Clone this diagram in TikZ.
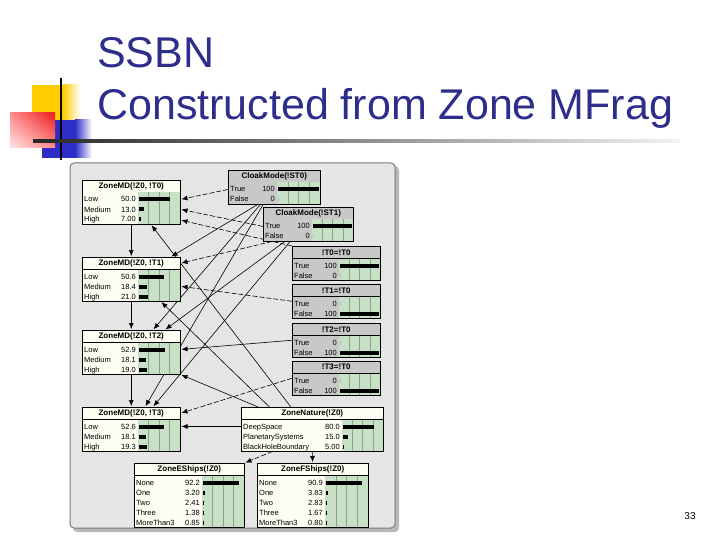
\documentclass[tikz,border=0pt]{standalone}
\usepackage{fontspec}
\setmainfont{Liberation Sans}
\usepackage{tikz}
\usetikzlibrary{arrows.meta, positioning, calc, shadings}
\definecolor{ttlblue}{RGB}{45,45,140}
\definecolor{sqyellow}{RGB}{255,204,0}
\definecolor{sqred}{RGB}{235,30,30}
\definecolor{sqblue}{RGB}{45,45,200}
\definecolor{framebg}{RGB}{229,229,229}
\definecolor{frameln}{RGB}{120,120,120}
\definecolor{nodeivory}{RGB}{253,253,242}
\definecolor{nodegray}{RGB}{200,200,200}
\definecolor{bargreen}{RGB}{200,224,198}
\definecolor{bargrid}{RGB}{135,165,135}
\pgfdeclarelayer{frame}
\pgfdeclarelayer{edges}
\pgfsetlayers{frame,edges,main}
\tikzset{
  bnhead/.style={rectangle, draw=black, line width=0.5pt, inner sep=0pt,
    minimum height=12pt, font=\fontsize{8}{9}\selectfont\bfseries},
  bnbox/.style={rectangle, draw=black, line width=0.5pt, inner sep=0pt},
  bntext/.style={inner sep=0pt, font=\fontsize{7.5}{8}\selectfont},
  bngrid/.style={color=bargrid, line width=0.4pt},
  bnarrow/.style={-{Latex[length=6pt, width=5pt]}, line width=0.6pt, shorten >=1pt},
  dashedge/.style={bnarrow, dash pattern=on 5pt off 2pt},
  title/.style={anchor=base west, text=ttlblue, inner sep=0pt,
    font=\fontsize{43}{50}\selectfont}
}
% #1 name, #2 top left, #3 width, #4 label width, #5 title, #6 fill, #7 rows, #8 states
\newcommand{\bntable}[8]{%
  \node[bnhead, fill=#6, minimum width=#3, anchor=north west] (#1-h) at (#2) {#5};
  \fill[#6] (#1-h.south west) rectangle ($(#1-h.south west)+(#4,{#7*10+2})$);
  \fill[bargreen] ($(#1-h.south west)+(#4,0)$) rectangle ($(#1-h.south east)+(0,{#7*10+2})$);
  \foreach \g in {1,2,3}
    \draw[bngrid] ($(#1-h.south west)+({#4+\g*(#3-#4)/4},0)$) -- ++(0,{#7*10+2});
  \foreach \rlab/\rval/\rlen [count=\i] in {#8} {
    \node[bntext, anchor=base west] (#1-l\i) at ($(#1-h.south west)+(2,{9.5+(\i-1)*10})$) {\rlab};
    \node[bntext, anchor=base east] (#1-v\i) at ($(#1-h.south west)+({#4-2},{9.5+(\i-1)*10})$) {\rval};
    \fill[black] ($(#1-h.south west)+({#4+1},{5+(\i-1)*10})$) rectangle ++({\rlen*(#3-#4-2)},4);
  }
  \node[bnbox, minimum width=#3, minimum height={14+#7*10}, anchor=north west] (#1) at (#2) {};
}

\begin{document}
\begin{tikzpicture}[x=1pt, y=-1pt]
  \useasboundingbox (0,0) rectangle (720,540);

  % slide decoration
  \fill[sqyellow] (32,85) rectangle (63,120);
  \shade[left color=sqyellow, right color=white] (63,85) rectangle (80,120);
  \fill[sqblue] (42,120) rectangle (75,158);
  \shade[left color=sqblue, right color=white] (75,120) rectangle (92,158);
  \shade[upper right=sqred, upper left=red!45, lower left=red!10, lower right=red!45] (10,113) rectangle (55,148);
  \draw[line width=2pt] (61,78) -- (61,160);
  \shade[left color=black!85, middle color=gray!60, right color=gray!10] (33,140) rectangle (680,142.5);

  % title
  \node[title] (ttl1) at (97,68) {SSBN};
  \node[title] (ttl2) at (97,120) {Constructed from Zone MFrag};
  \node[font=\fontsize{10}{12}\selectfont] (pgnum) at (690,516) {33};

  % network window
  \begin{pgfonlayer}{frame}
    \fill[white] (0,0) rectangle (720,540);
    \fill[gray!55, rounded corners=4pt] (73,166) rectangle (399,532);
    \draw[frameln, fill=framebg, line width=1pt, rounded corners=4pt] (70,163) rectangle (395,528);
  \end{pgfonlayer}

  % ZoneMD nodes
  \bntable{md0}{82,180}{98}{56}{ZoneMD(!Z0, !T0)}{nodeivory}{3}{Low/50.0/0.78, Medium/13.0/0.13, High/7.00/0.05}
  \bntable{md1}{82,257}{98}{56}{ZoneMD(!Z0, !T1)}{nodeivory}{3}{Low/50.6/0.62, Medium/18.4/0.19, High/21.0/0.22}
  \bntable{md2}{82,330}{98}{56}{ZoneMD(!Z0, !T2)}{nodeivory}{3}{Low/52.9/0.64, Medium/18.1/0.17, High/19.0/0.19}
  \bntable{md3}{82,407}{98}{56}{ZoneMD(!Z0, !T3)}{nodeivory}{3}{Low/52.6/0.62, Medium/18.1/0.17, High/19.3/0.19}

  % CloakMode and time nodes
  \bntable{st0}{228,170}{92}{49}{CloakMode(!ST0)}{nodegray}{2}{True/100/1, False/0/0}
  \bntable{st1}{263,207}{90}{49}{CloakMode(!ST1)}{nodegray}{2}{True/100/1, False/0/0}
  \bntable{t0eq}{292,246}{88}{47}{!T0=!T0}{nodegray}{2}{True/100/1, False/0/0}
  \bntable{t1eq}{292,284}{88}{47}{!T1=!T0}{nodegray}{2}{True/0/0, False/100/1}
  \bntable{t2eq}{292,323}{88}{47}{!T2=!T0}{nodegray}{2}{True/0/0, False/100/1}
  \bntable{t3eq}{292,361}{88}{47}{!T3=!T0}{nodegray}{2}{True/0/0, False/100/1}

  % ZoneNature and ships
  \bntable{nat}{241,407}{142}{101}{ZoneNature(!Z0)}{nodeivory}{3}{DeepSpace/80.0/0.8, PlanetarySystems/15.0/0.13, BlackHoleBoundary/5.00/0.03}
  \bntable{es}{134,463}{110}{68}{ZoneEShips(!Z0)}{nodeivory}{5}{None/92.2/0.9, One/3.20/0.04, Two/2.41/0.03, Three/1.38/0.02, MoreThan3/0.85/0.015}
  \bntable{fs}{257,463}{111}{68}{ZoneFShips(!Z0)}{nodeivory}{5}{None/90.9/0.88, One/3.83/0.04, Two/2.83/0.03, Three/1.67/0.02, MoreThan3/0.80/0.015}

  \begin{pgfonlayer}{edges}
    % into ZoneMD(!Z0, !T0)
    \draw[dashedge] (st0.west |- st0-l1) -- (md0.east |- md0-l1);
    \draw[dashedge] (st1.west |- st1-l1) -- (md0.east |- md0-l2);
    \draw[dashedge] (t0eq.north west) -- (md0.east |- md0-l3);
    \draw[bnarrow] ($(nat.north west)!0.35!(nat.north east)$) -- ($(md0.south west)!0.7!(md0.south east)$);
    % into ZoneMD(!Z0, !T1)
    \draw[bnarrow] (md0.south) -- (md1.north);
    \draw[bnarrow] ($(st0.south west)!0.32!(st0.south east)$) -- ($(md1.north west)!0.9!(md1.north east)$);
    \draw[dashedge] ($(st1.south west)!0.1!(st1.south east)$) -- (md1.east |- md1-h);
    \draw[dashedge] (t1eq.west) -- (md1.east |- md1-l2);
    \draw[bnarrow] ($(nat.north west)!0.2!(nat.north east)$) -- ($(md1.south west)!0.8!(md1.south east)$);
    % into ZoneMD(!Z0, !T2)
    \draw[bnarrow] (md1.south) -- (md2.north);
    \draw[bnarrow] ($(st0.south west)!0.35!(st0.south east)$) -- ($(md2.north west)!0.72!(md2.north east)$);
    \draw[bnarrow] ($(st1.south west)!0.24!(st1.south east)$) -- ($(md2.north west)!0.84!(md2.north east)$);
    \draw[bnarrow] (t2eq.west) -- (md2.east |- md2-l1);
    \draw[bnarrow] ($(nat.north west)!0.12!(nat.north east)$) -- (md2.south east);
    % into ZoneMD(!Z0, !T3)
    \draw[bnarrow] (md2.south) -- (md3.north);
    \draw[bnarrow] ($(st0.south west)!0.38!(st0.south east)$) -- ($(md3.north west)!0.64!(md3.north east)$);
    \draw[bnarrow] ($(st1.south west)!0.3!(st1.south east)$) -- ($(md3.north west)!0.72!(md3.north east)$);
    \draw[dashedge] (t3eq.west) -- (md3.east |- md3-h);
    \draw[bnarrow] (nat.west |- md3-l1) -- (md3.east |- md3-l1);
    % ships
    \draw[dashedge] ($(nat.south west)!0.22!(nat.south east)$) -- (es.north east);
    \draw[bnarrow] (nat.south) -- (fs.north);
  \end{pgfonlayer}
\end{tikzpicture}
\end{document}
